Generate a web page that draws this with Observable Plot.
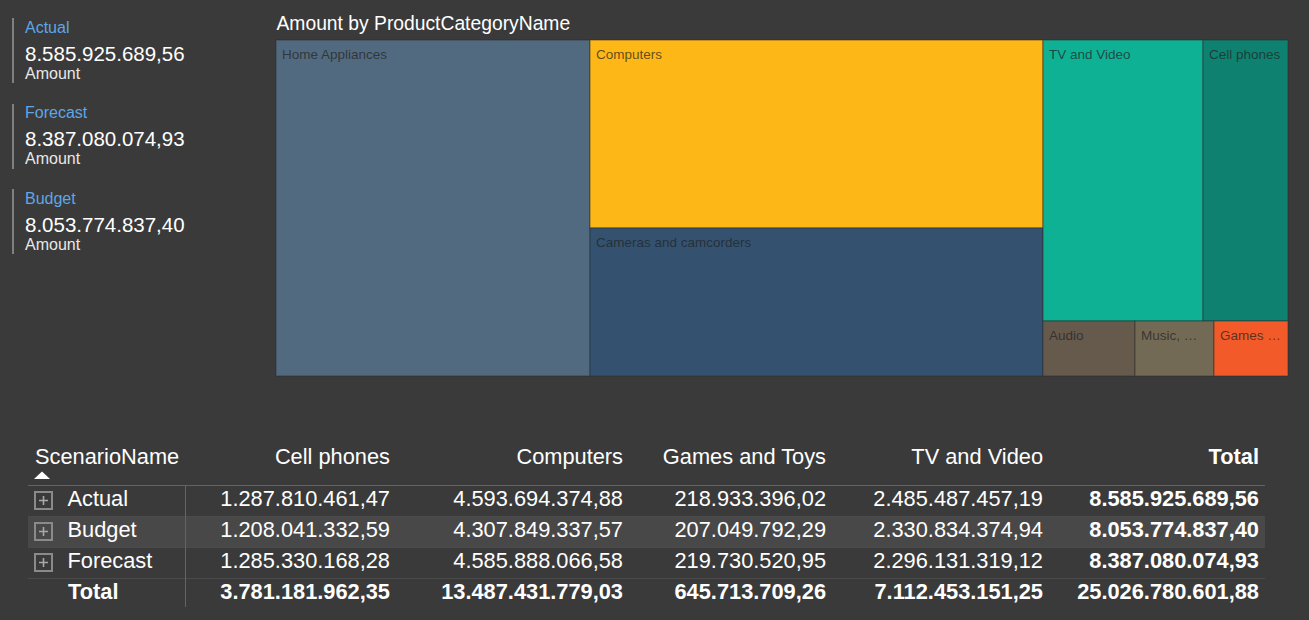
<!DOCTYPE html>
<html>
<head>
<meta charset="utf-8">
<script src="https://cdn.jsdelivr.net/npm/d3@7"></script>
<script src="https://cdn.jsdelivr.net/npm/@observablehq/plot@0.6"></script>
<style>
  html, body { margin: 0; padding: 0; }
  body {
    width: 1309px; height: 620px; overflow: hidden; position: relative;
    background: #3a3a3a; color: #fff;
    font-family: "Liberation Sans", Arial, sans-serif;
  }
  .abs { position: absolute; white-space: nowrap; line-height: 1; }
  #treemap { position: absolute; left: 275px; top: 39px; }
  #treemap svg { display: block; }
</style>
</head>
<body>
<script>
// ---------- DATA ----------
const kpiNames = ["Actual", "Forecast", "Budget"];
const kpiValues = [8585925689.56, 8387080074.93, 8053774837.40];
const kpiLabel = "Amount";

const treemapTitle = "Amount by ProductCategoryName";
const categories = ["Home Appliances", "Computers", "Cameras and camcorders", "TV and Video", "Cell phones", "Audio", "Music, Movies and Audio Books", "Games and Toys"];
const categoryAmounts = [16710000000, 13487431779.03, 10620000000, 7112453151.25, 3781181962.35, 800000000, 679000000, 645713709.26];
const categoryColors = ["#526a7f", "#fdb716", "#34526f", "#0fb195", "#0f8170", "#665a4d", "#736a55", "#f25a29"];

const tableHeader = "ScenarioName";
const tableColumns = ["Cell phones", "Computers", "Games and Toys", "TV and Video"];
const scenarios = ["Actual", "Budget", "Forecast"];
const cellPhones = [1287810461.47, 1208041332.59, 1285330168.28];
const computers = [4593694374.88, 4307849337.57, 4585888066.58];
const gamesToys = [218933396.02, 207049792.29, 219730520.95];
const tvVideo = [2485487457.19, 2330834374.94, 2296131319.12];
const rowTotals = [8585925689.56, 8053774837.40, 8387080074.93];
const columnTotals = [3781181962.35, 13487431779.03, 645713709.26, 7112453151.25];
const grandTotal = 25026780601.88;
const totalLabel = "Total";

// ---------- HELPERS ----------
const fmt = d3.formatLocale({decimal: ",", thousands: ".", grouping: [3], currency: ["", ""]}).format(",.2f");
const FONT = '"Liberation Sans", Arial, sans-serif';
function addText(txt, opts) {
  const el = document.createElement("div");
  el.className = "abs";
  el.textContent = txt;
  const fs = opts.size;
  el.style.fontSize = fs + "px";
  el.style.top = (opts.baseline - 0.8465 * fs) + "px";
  if (opts.right != null) el.style.right = (1309 - opts.right) + "px";
  else el.style.left = opts.left + "px";
  el.style.color = opts.color || "#fff";
  if (opts.bold) el.style.fontWeight = "bold";
  document.body.appendChild(el);
  return el;
}
function addBox(l, t, w, h, bg) {
  const el = document.createElement("div");
  el.style.cssText = `position:absolute;left:${l}px;top:${t}px;width:${w}px;height:${h}px;background:${bg}`;
  document.body.appendChild(el);
  return el;
}

// ---------- KPI CARDS ----------
kpiNames.forEach((name, i) => {
  const off = 85.7 * i;
  addBox(12, 18 + off, 2, 65, "#808080");
  addText(name, {left: 25, baseline: 33.3 + off, size: 16, color: "#5ea6e6"});
  addText(fmt(kpiValues[i]), {left: 25, baseline: 61 + off, size: 20.5, color: "#ffffff"});
  addText(kpiLabel, {left: 25, baseline: 79.3 + off, size: 16, color: "#e8e8e8"});
});

// ---------- TREEMAP ----------
addText(treemapTitle, {left: 276.5, baseline: 30.7, size: 19.3, color: "#ffffff"});

const W = 1012, H = 336;
const root = d3.hierarchy({children: categories.map((c, i) => ({name: c, value: categoryAmounts[i]}))})
  .sum(d => d.value || 0)
  .sort((a, b) => b.value - a.value);
d3.treemap().size([W, H]).tile(d3.treemapSquarify.ratio(1.7)).round(true)(root);
const leaves = root.leaves();

const ctx = document.createElement("canvas").getContext("2d");
ctx.font = `13.5px ${FONT}`;
function fitLabel(name, width) {
  const avail = width - 8;
  if (ctx.measureText(name).width <= avail) return name;
  const words = name.split(" ");
  for (let k = words.length - 1; k >= 1; k--) {
    const t = words.slice(0, k).join(" ") + " …";
    if (ctx.measureText(t).width <= avail) return t;
  }
  return "…";
}

const tm = Plot.plot({
  width: W + 2, height: H + 2,
  marginTop: 1, marginRight: 1, marginBottom: 1, marginLeft: 1,
  x: {domain: [0, W], axis: null},
  y: {domain: [0, H], range: [1, H + 1], axis: null},
  color: {domain: categories, range: categoryColors},
  style: {background: "transparent", fontFamily: FONT, overflow: "visible"},
  marks: [
    Plot.rect(leaves, {
      x1: d => d.x0, x2: d => d.x1, y1: d => d.y0, y2: d => d.y1,
      fill: d => d.data.name, inset: 0,
      stroke: "#2a2a2a", strokeOpacity: 0.55, strokeWidth: 1
    }),
    Plot.text(leaves, {
      x: d => d.x0 + 5.5, y: d => d.y0 + 9.3,
      text: d => fitLabel(d.data.name, d.x1 - d.x0),
      textAnchor: "start", lineAnchor: "top",
      fontSize: 13.5, fill: "#222222", fillOpacity: 0.72
    })
  ]
});
const tmDiv = document.createElement("div");
tmDiv.id = "treemap";
tmDiv.appendChild(tm);
document.body.appendChild(tmDiv);

// ---------- TABLE ----------
const colRight = [390, 623, 826, 1043, 1259];
const FS = 21.8;
const rowTop = i => 486 + 31 * i;
const baseOf = i => rowTop(i) + 20.7;

// highlight for Budget row
addBox(28, rowTop(1) - 0.5, 1237, 31.5, "#484848");
// row separators
[0, 1, 2].forEach(i => addBox(28, rowTop(i) + 30, 1237, 1, "#4a4a4a"));
// header underline and vertical divider
addBox(28, 485, 1237, 1, "#2f6fb5");
addBox(185, 486, 1, 121, "#2f6fb5");

// header
addText(tableHeader, {left: 35, baseline: 464, size: FS});
tableColumns.forEach((c, j) => addText(c, {right: colRight[j], baseline: 464, size: FS}));
addText(totalLabel, {right: colRight[4], baseline: 464, size: FS, bold: true});
// sort arrow
const arrow = document.createElementNS("http://www.w3.org/2000/svg", "svg");
arrow.setAttribute("width", 18); arrow.setAttribute("height", 10);
arrow.style.cssText = "position:absolute;left:33px;top:470px";
arrow.innerHTML = '<path d="M1,9 L17,9 L9,1.5 Z" fill="#ffffff"/>';
document.body.appendChild(arrow);

// body rows
const series = [cellPhones, computers, gamesToys, tvVideo];
scenarios.forEach((s, i) => {
  const box = document.createElementNS("http://www.w3.org/2000/svg", "svg");
  box.setAttribute("width", 20); box.setAttribute("height", 20);
  box.style.cssText = `position:absolute;left:34px;top:${rowTop(i) + 5}px`;
  box.innerHTML = '<rect x="1" y="1" width="17" height="17" fill="none" stroke="#8a8a8a" stroke-width="2"/>' +
    '<path d="M5,9.5 H14 M9.5,5 V14" stroke="#a8a8a8" stroke-width="1.6"/>';
  document.body.appendChild(box);
  addText(s, {left: 67.5, baseline: baseOf(i), size: FS});
  series.forEach((arr, j) => addText(fmt(arr[i]), {right: colRight[j], baseline: baseOf(i), size: FS}));
  addText(fmt(rowTotals[i]), {right: colRight[4], baseline: baseOf(i), size: FS, bold: true});
});
// totals row
addText(totalLabel, {left: 68, baseline: baseOf(3), size: FS, bold: true});
columnTotals.forEach((v, j) => addText(fmt(v), {right: colRight[j], baseline: baseOf(3), size: FS, bold: true}));
addText(fmt(grandTotal), {right: colRight[4], baseline: baseOf(3), size: FS, bold: true});
</script>
</body>
</html>
